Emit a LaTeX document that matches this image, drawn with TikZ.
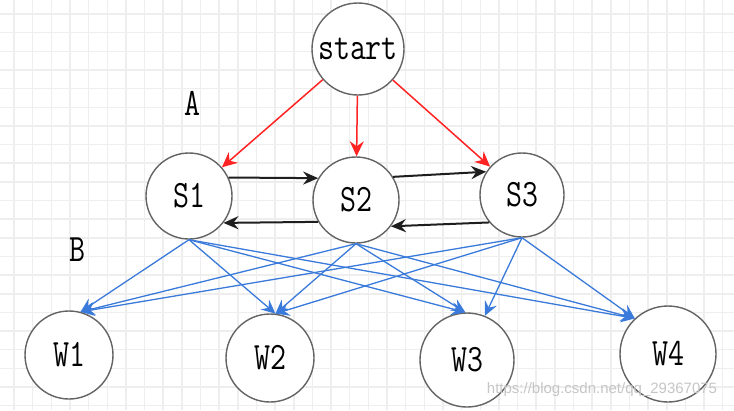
\documentclass[tikz,border=0pt]{standalone}
\usepackage{graphicx}
\usepackage{fontspec}
\newfontfamily\wmfont{Liberation Sans}
\usetikzlibrary{arrows.meta}
\definecolor{gridc}{RGB}{238,238,238}
\definecolor{nodeline}{RGB}{100,100,100}
\definecolor{blueedge}{RGB}{58,122,218}
\definecolor{rededge}{RGB}{255,35,35}
\definecolor{blackedge}{RGB}{30,30,30}
\newcommand\tallt[1]{\scalebox{1}[1.25]{#1}}
\begin{document}
\begin{tikzpicture}[x=1pt,y=-1pt,
  state/.style={circle,draw=nodeline,line width=1.4pt,fill=white,inner sep=0pt,
    minimum size=86pt,font=\fontsize{31}{31}\selectfont\ttfamily},
  lbl/.style={inner sep=0pt,font=\fontsize{31}{31}\selectfont\ttfamily},
  gridline/.style={draw=gridc,line width=1.5pt},
  redarrow/.style={draw=rededge,line width=1.5pt,-{Stealth[length=15pt,width=14pt,inset=5pt]}},
  blackarrow/.style={draw=blackedge,line width=2pt,-{Stealth[length=15pt,width=13pt,inset=5pt]}},
  bluearrow/.style={draw=blueedge,line width=1.3pt,-{Stealth[length=14pt,width=13pt,inset=5pt]}},
  wm/.style={inner sep=0pt,text=gray!45,font=\wmfont\fontsize{15}{15}\selectfont}
]
\useasboundingbox (0,0) rectangle (734,410);
\fill[white] (0,0) rectangle (734,410);
\foreach \i in {0,...,38} { \draw[gridline] ({14+18.65*\i},0) -- ({14+18.65*\i},410); }
\foreach \j in {0,...,21} { \draw[gridline] (0,{14+18.65*\j}) -- (734,{14+18.65*\j}); }

% nodes
\node[state,minimum size=92pt] (start) at (358,49) {\tallt{start}};
\node[state] (S1) at (189,196) {\tallt{S1}};
\node[state] (S2) at (356,200) {\tallt{S2}};
\node[state,minimum size=84pt] (S3) at (522,195) {\tallt{S3}};
\node[state,minimum size=88pt] (W1) at (69,355) {\tallt{W1}};
\node[state,minimum size=88pt] (W2) at (270,358) {\tallt{W2}};
\node[state,minimum size=94pt] (W3) at (467,360) {\tallt{W3}};
\node[state,minimum size=96pt] (W4) at (668,354) {\tallt{W4}};

\node[lbl] (A) at (192,103) {\tallt{A}};
\node[lbl] (B) at (77,250) {\tallt{B}};

% red edges
\draw[redarrow] (start) -- (S1);
\draw[redarrow] (start) -- (S2);
\draw[redarrow] (start) -- (S3);

% black edges
\draw[blackarrow] (S1.25) -- (S2.150);
\draw[blackarrow] (S2.210) -- (S1.322);
\draw[blackarrow] (S2.32) -- (S3.147);
\draw[blackarrow] (S3.220) -- (S2.323);

% blue edges
\foreach \s in {S1,S2,S3} {
  \draw[bluearrow] (\s.270) -- (W1.75);
  \draw[bluearrow] (\s.270) -- (W2.83);
  \draw[bluearrow] (\s.270) -- (W4.133);
}
\draw[bluearrow] (S1.270) -- (W3.92);
\draw[bluearrow] (S2.270) -- (W3.92);
\draw[bluearrow] (S3.270) -- (W3.68);

\node[wm] (wmark) at (602,390) {https://blog.csdn.net/qq\_29367075};
\end{tikzpicture}
\end{document}
